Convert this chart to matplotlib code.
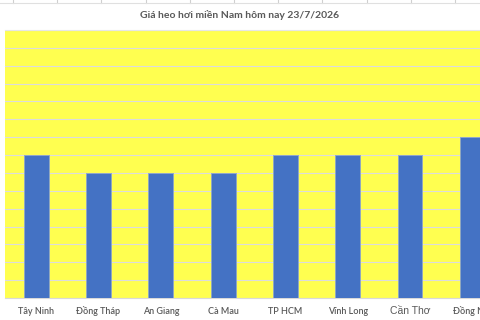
import numpy as np
import matplotlib.pyplot as plt

# data (values in gridline units above an assumed base)
provinces = ["Tây Ninh", "Đồng Tháp", "An Giang", "Cà Mau",
             "TP HCM", "Vĩnh Long", "Cần Thơ", "Đồng Nai"]
prices = [58, 57, 57, 57, 58, 58, 58, 59]
y_min, y_max, y_step = 50, 65, 1

title = "Giá heo hơi miền Nam hôm nay 23/7/2026"

fig = plt.figure(figsize=(4.8, 3.2), dpi=100)
fig.patch.set_facecolor("white")

# faint spreadsheet cell lines showing at the top edge
for xc in np.arange(13, 480, 44.2):
    fig.add_artist(plt.Line2D([xc / 480, xc / 480], [1.0, 0.99], color="#d0d0d0", lw=0.8))
fig.add_artist(plt.Line2D([0, 1], [0.99, 0.99], color="#e0e0e0", lw=0.8))

# axes wider than the figure: the reference is cropped on the right
ax = fig.add_axes([5 / 480, 22 / 320, 498.5 / 480, 268 / 320])
ax.set_facecolor("#ffff50")

x = np.arange(len(provinces))
ax.bar(x, np.array(prices) - y_min, bottom=y_min, width=0.4,
       color="#4472c4", edgecolor="#8fa6c8", linewidth=0.6, zorder=3)

ax.set_xlim(-0.5, len(provinces) - 0.5)
ax.set_ylim(y_min, y_max)
ax.set_yticks(np.arange(y_min, y_max + y_step, y_step))
ax.yaxis.grid(True, color="#dcdcdc", lw=0.8, zorder=0)
ax.tick_params(axis="y", left=False, labelleft=False)
ax.tick_params(axis="x", length=0, pad=11.5)
ax.set_xticks(x)
ax.set_xticklabels(provinces, fontsize=6.5, color="#595959",
                   family=["Lato", "DejaVu Sans"], fontweight="semibold",
                   va="baseline")
# this label is typed in another font in the reference
lbl = ax.get_xticklabels()[6]
lbl.set_family(["Liberation Sans", "DejaVu Sans"])
lbl.set_fontsize(7.5)
lbl.set_fontweight("normal")

for side in ["left", "right", "top"]:
    ax.spines[side].set_visible(False)
ax.spines["bottom"].set_color("#d9d9d9")
ax.spines["top"].set_visible(True)
ax.spines["top"].set_color("#e6e6e6")

fig.text(240 / 480, 1 - 15 / 320, title, ha="center", va="center",
         fontsize=7.5, color="#595959", fontweight="bold",
         family=["Lato", "DejaVu Sans"])

fig.savefig("out.png", dpi=100)
